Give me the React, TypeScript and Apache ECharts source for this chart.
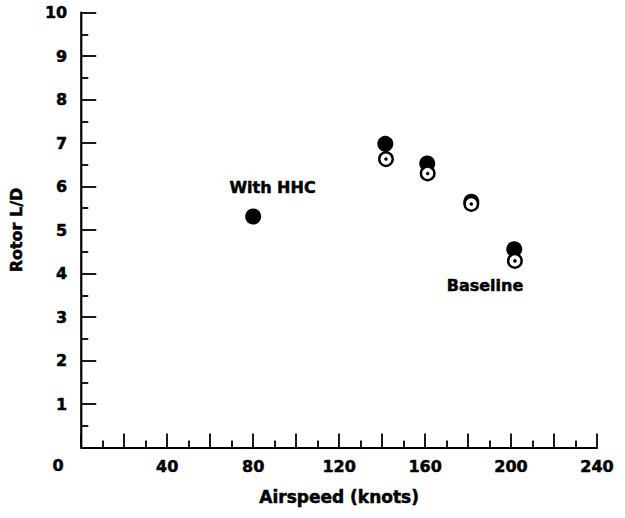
import React, { useEffect, useRef } from "react";
import * as echarts from "echarts";

const withHHC: [number, number][] = [
  [80, 5.31],
  [141.5, 6.98],
  [161, 6.53],
  [181.5, 5.65],
  [201.5, 4.56],
];
const baseline: [number, number][] = [
  [141.8, 6.63],
  [161.2, 6.3],
  [181.5, 5.6],
  [201.8, 4.29],
];
const xLabelValues = [40, 80, 120, 160, 200, 240];
const seriesNames = ["With HHC", "Baseline"];

const FONT = "DejaVu Sans";
const heavy = { textBorderColor: "#000", textBorderWidth: 0.5 };

export default function App() {
  const ref = useRef<HTMLDivElement>(null);
  useEffect(() => {
    if (!ref.current) return;
    const chart = echarts.init(ref.current, undefined, { renderer: "svg" });
    const axisLine = { show: true, lineStyle: { color: "#000", width: 2.2 } };
    chart.setOption({
      animation: false,
      backgroundColor: "#fff",
      grid: { left: 80, right: 28, top: 12.5, bottom: 70.5, containLabel: false },
      xAxis: {
        type: "value",
        min: 0,
        max: 240,
        interval: 20,
        axisLine,
        axisTick: { show: true, inside: true, length: 14, lineStyle: { color: "#000", width: 1.8 } },
        minorTick: { show: true, splitNumber: 2, length: 7, lineStyle: { color: "#000", width: 1.8 } },
        splitLine: { show: false },
        axisLabel: {
          margin: 11,
          color: "#000",
          fontFamily: FONT,
          fontWeight: "bold",
          fontSize: 16,
          ...heavy,
          formatter: (v: number) => (xLabelValues.includes(v) ? String(v) : ""),
        },
        name: "Airspeed (knots)",
        nameLocation: "middle",
        nameGap: 41,
        nameTextStyle: { color: "#000", fontFamily: FONT, fontWeight: "bold", fontSize: 17, ...heavy },
      },
      yAxis: {
        type: "value",
        min: 0,
        max: 10,
        interval: 1,
        axisLine,
        axisTick: { show: true, inside: true, length: 15, lineStyle: { color: "#000", width: 1.8 } },
        minorTick: { show: true, splitNumber: 2, length: 7, lineStyle: { color: "#000", width: 1.8 } },
        splitLine: { show: false },
        axisLabel: {
          margin: 14,
          color: "#000",
          fontFamily: FONT,
          fontWeight: "bold",
          fontSize: 16,
          ...heavy,
          formatter: (v: number) => (v === 0 ? "" : String(v)),
        },
        name: "Rotor L/D",
        nameLocation: "middle",
        nameGap: 57,
        nameTextStyle: { color: "#000", fontFamily: FONT, fontWeight: "bold", fontSize: 16, ...heavy },
      },
      graphic: [
        {
          type: "text",
          x: 58,
          y: 465,
          style: {
            text: "0",
            fill: "#000",
            stroke: "#000",
            lineWidth: 0.5,
            font: `bold 16px "${FONT}"`,
            align: "center",
            verticalAlign: "middle",
          },
        },
        {
          type: "text",
          x: 272.5,
          y: 187.5,
          style: {
            text: seriesNames[0],
            fill: "#000",
            stroke: "#000",
            lineWidth: 0.5,
            font: `bold 16px "${FONT}"`,
            align: "center",
            verticalAlign: "middle",
          },
        },
        {
          type: "text",
          x: 485,
          y: 285,
          style: {
            text: seriesNames[1],
            fill: "#000",
            stroke: "#000",
            lineWidth: 0.5,
            font: `bold 16px "${FONT}"`,
            align: "center",
            verticalAlign: "middle",
          },
        },
      ],
      series: [
        {
          name: seriesNames[0],
          type: "scatter",
          data: withHHC,
          symbol: "circle",
          symbolSize: 16,
          itemStyle: { color: "#000", opacity: 1 },
          z: 2,
        },
        {
          name: seriesNames[1],
          type: "scatter",
          data: baseline,
          symbol: "circle",
          symbolSize: 13.5,
          itemStyle: { color: "#fff", borderColor: "#000", borderWidth: 2.4, opacity: 1 },
          z: 3,
        },
        {
          name: seriesNames[1] + " dot",
          type: "scatter",
          data: baseline,
          symbol: "circle",
          symbolSize: 3.5,
          itemStyle: { color: "#000", opacity: 1 },
          z: 4,
        },
      ],
    });
    return () => chart.dispose();
  }, []);
  return <div ref={ref} style={{ width: 625, height: 518, position: "absolute", left: 0, top: 0 }} />;
}
